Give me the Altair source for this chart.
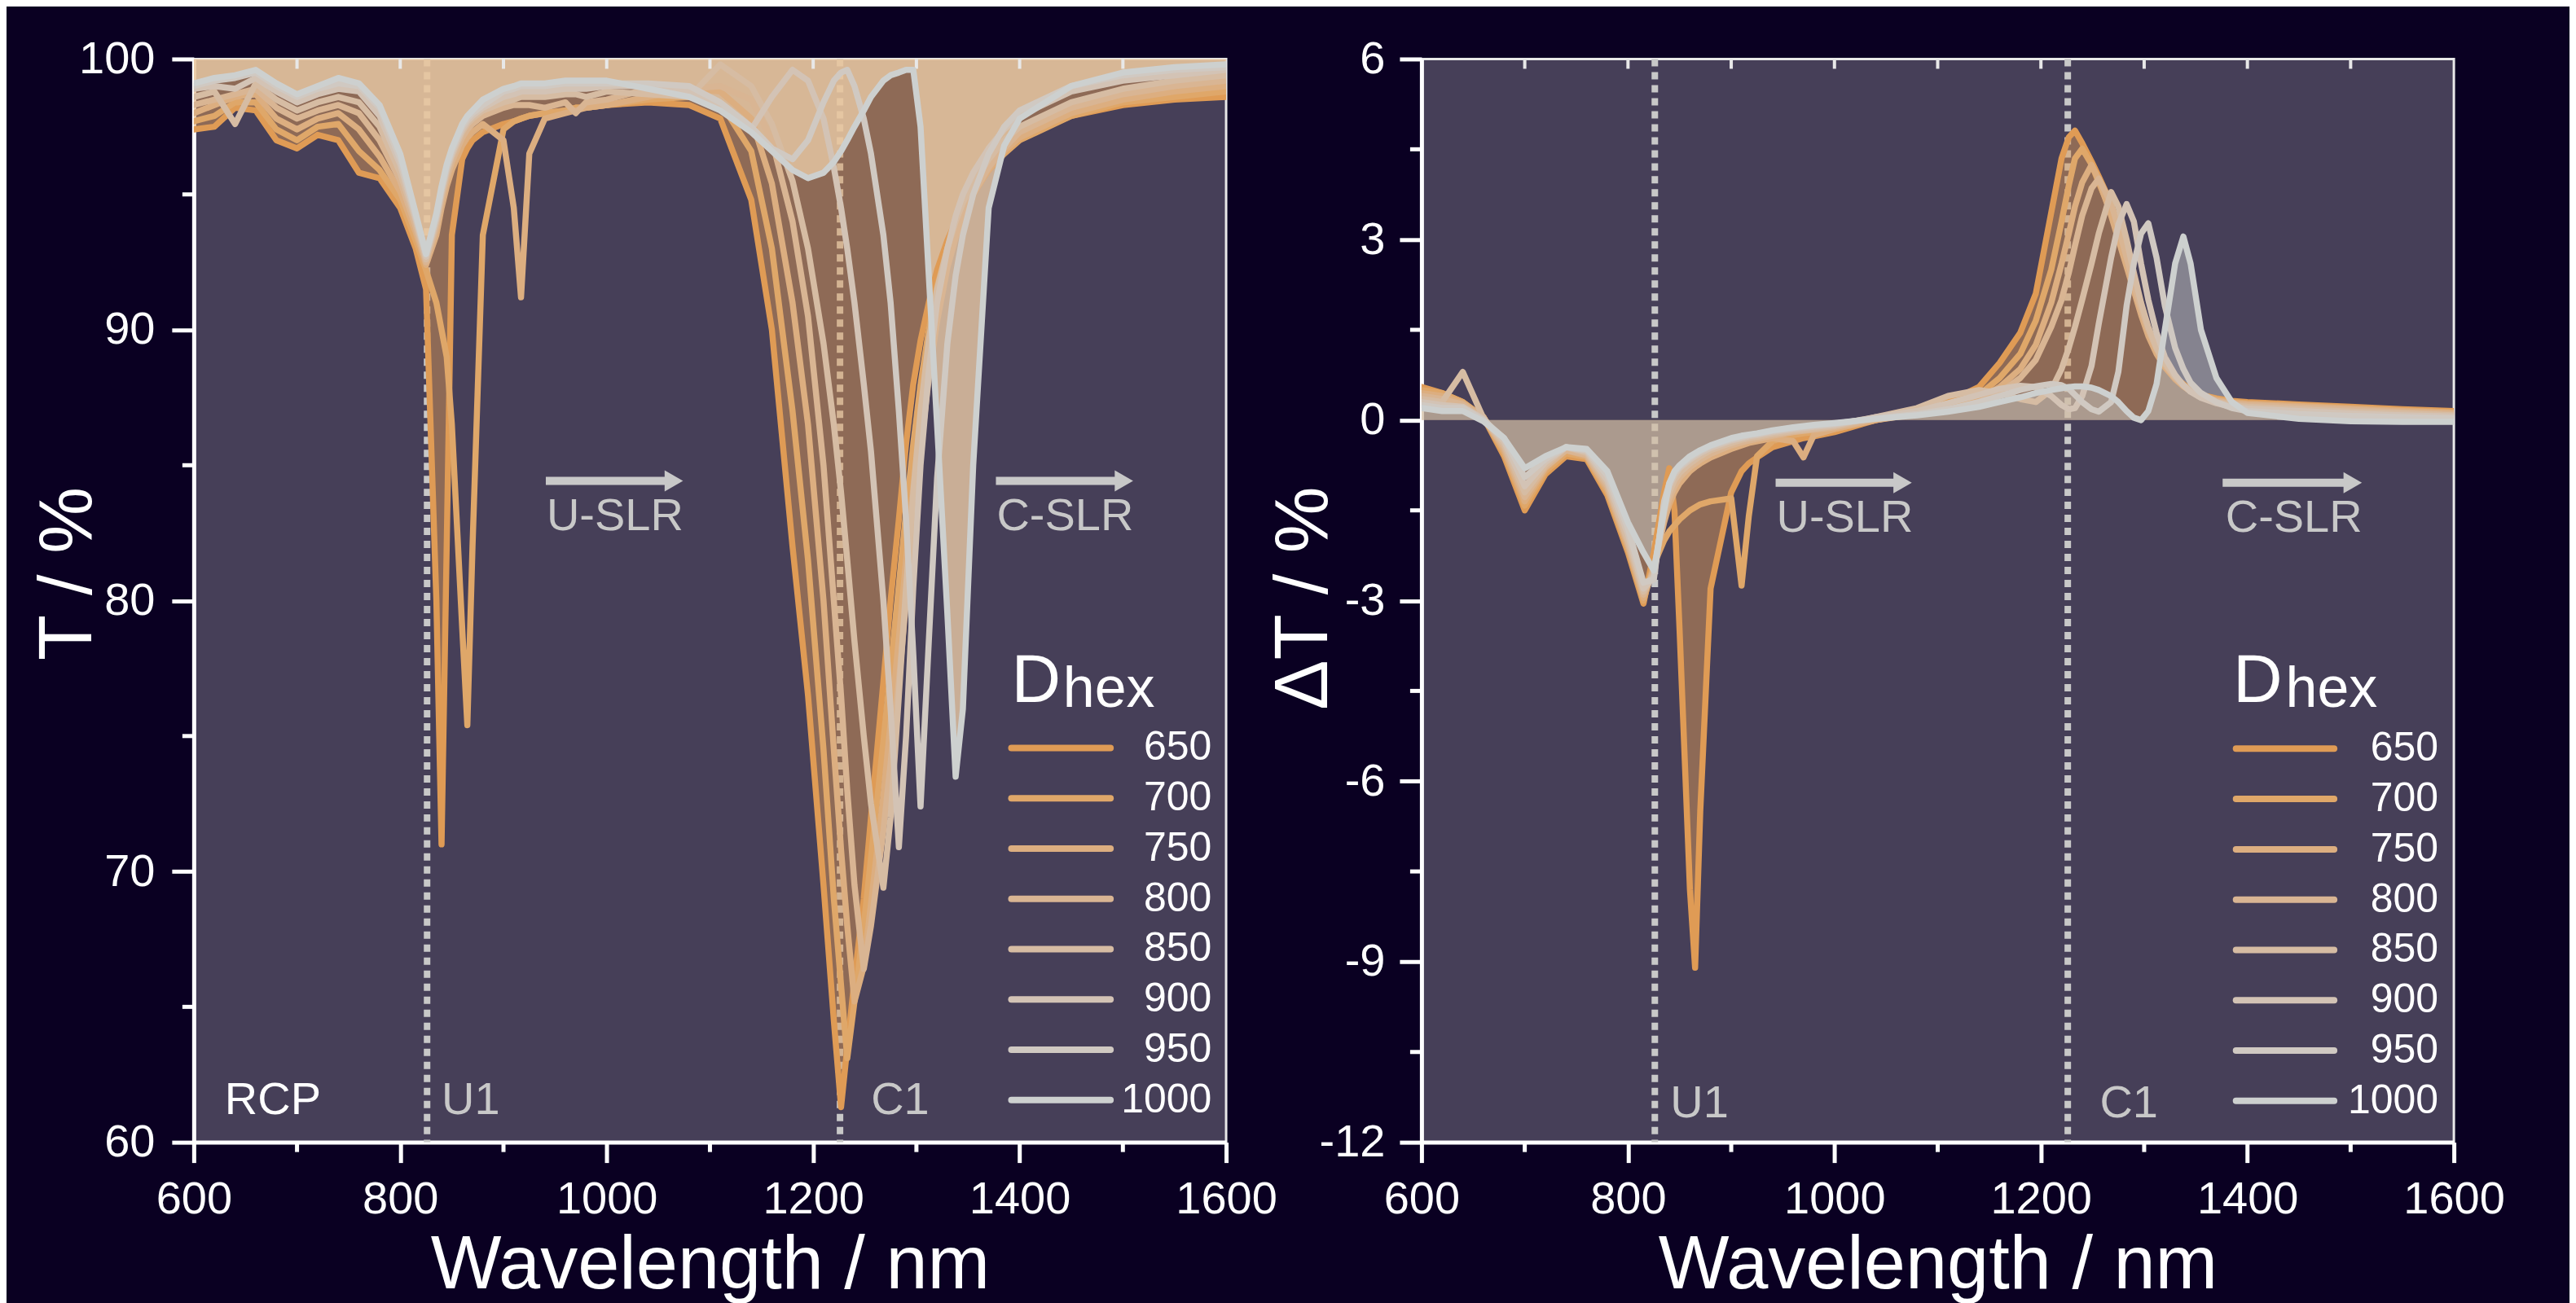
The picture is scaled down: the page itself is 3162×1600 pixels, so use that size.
import altair as alt
import pandas as pd

# ---------------- data ----------------
WL = [600, 620, 640, 660, 680, 700, 720, 740, 760, 780,
      800, 815, 825, 835, 840, 845, 850, 860, 865, 870,
      880, 900, 910, 917, 925, 940, 960, 970, 980, 1000,
      1040, 1080, 1110, 1140, 1160, 1180, 1195, 1210, 1220, 1227,
      1233, 1240, 1249, 1256, 1268, 1275, 1283, 1290, 1297, 1304,
      1312, 1320, 1330, 1338, 1345, 1355, 1370, 1385, 1400, 1450,
      1500, 1550, 1600]

SERIES = ["650", "700", "750", "800", "850", "900", "950", "1000"]
COLORS = ["#df9b55", "#dfa769", "#dcae80", "#d9b593",
          "#d6bca3", "#d3c3b5", "#d0c9c2", "#cdd0cf"]

# Transmission T / % (RCP)
T650 = [97.4, 97.5, 98.2, 98.1, 97.0, 96.7, 97.2, 97.0, 95.8, 95.6,
        94.5, 93.0, 91.5, 80.0, 71.0, 82.0, 93.5, 96.3, 96.7, 97.0,
        97.3, 97.6, 97.7, 97.8, 97.9, 98.0, 98.1, 98.2, 98.2, 98.3,
        98.4, 98.3, 97.8, 94.8, 90.0, 82.0, 76.5, 69.5, 64.5, 61.3,
        63.5, 66.0, 69.0, 72.0, 77.0, 80.0, 83.0, 85.8, 88.0, 89.6,
        91.0, 92.2, 93.3, 94.0, 94.6, 95.3, 96.1, 96.7, 97.1, 97.9,
        98.3, 98.5, 98.6]
T700 = [97.7, 97.9, 98.4, 98.4, 97.4, 97.0, 97.5, 97.6, 96.6, 95.9,
        94.8, 93.3, 92.2, 91.0, 90.0, 89.0, 86.5, 79.0, 75.4, 82.0,
        93.5, 97.4, 97.7, 97.8, 97.9, 98.0, 98.1, 98.2, 98.2, 98.3,
        98.5, 98.6, 98.4, 96.6, 93.0, 87.0, 81.5, 74.5, 69.0, 65.8,
        63.1, 65.2, 68.0, 70.5, 74.8, 77.5, 80.6, 83.3, 85.8, 88.0,
        90.0, 91.6, 93.0, 93.8, 94.4, 95.1, 95.9, 96.5, 97.0, 97.9,
        98.4, 98.6, 98.8]
T750 = [98.0, 98.3, 98.6, 98.7, 97.8, 97.4, 97.8, 98.0, 97.4, 96.4,
        95.1, 93.6, 92.4, 93.5, 94.5, 95.3, 95.9, 96.8, 97.1, 97.3,
        97.6, 97.0, 94.5, 91.2, 96.5, 97.8, 98.0, 98.1, 98.2, 98.3,
        98.6, 98.9, 98.8, 97.8, 95.4, 91.0, 86.5, 80.0, 74.5, 70.8,
        68.0, 65.2, 66.5, 68.8, 72.8, 75.5, 78.6, 81.5, 84.2, 86.6,
        88.9, 90.8, 92.6, 93.6, 94.3, 95.0, 95.9, 96.6, 97.1, 98.0,
        98.5, 98.8, 99.0]
T800 = [98.3, 98.5, 98.7, 98.9, 98.2, 97.8, 98.1, 98.3, 98.0, 97.0,
        95.5, 93.8, 92.5, 93.8, 94.8, 95.6, 96.2, 97.1, 97.4, 97.6,
        97.9, 98.2, 98.3, 98.3, 98.3, 98.2, 98.4, 98.0, 98.4, 98.5,
        98.9, 98.9, 99.0, 98.5, 97.0, 94.0, 90.5, 85.0, 80.0, 76.5,
        73.0, 69.5, 66.4, 68.0, 71.5, 74.0, 77.0, 80.0, 83.0, 85.6,
        88.2, 90.3, 92.3, 93.4, 94.2, 95.0, 96.0, 96.7, 97.3, 98.2,
        98.7, 99.0, 99.2]
T850 = [98.6, 98.8, 97.6, 99.1, 98.5, 98.1, 98.4, 98.6, 98.4, 97.5,
        95.8, 94.0, 92.6, 94.0, 95.0, 95.8, 96.4, 97.3, 97.6, 97.8,
        98.1, 98.4, 98.5, 98.6, 98.6, 98.6, 98.7, 98.7, 98.6, 98.8,
        98.7, 98.6, 99.8, 99.0, 97.6, 95.5, 93.0, 89.5, 86.5, 84.0,
        81.5, 78.5, 75.0, 72.5, 69.4, 72.0, 76.5, 80.5, 84.0, 87.0,
        89.6, 91.5, 93.0, 94.0, 94.7, 95.4, 96.3, 97.0, 97.5, 98.4,
        98.9, 99.2, 99.4]
T900 = [98.9, 99.0, 98.9, 99.3, 98.8, 98.4, 98.7, 98.9, 98.8, 97.9,
        96.1, 94.1, 92.7, 94.1, 95.1, 95.9, 96.5, 97.4, 97.7, 97.9,
        98.2, 98.6, 98.7, 98.8, 98.8, 98.8, 98.9, 98.9, 98.9, 99.0,
        99.0, 98.8, 98.2, 97.4, 98.6, 99.6, 99.2, 97.8, 96.0, 94.5,
        93.0, 91.0, 88.0, 85.5, 80.0, 76.0, 70.9, 75.0, 80.5, 85.0,
        88.5, 91.0, 93.0, 94.2, 95.0, 95.8, 96.7, 97.4, 97.9, 98.8,
        99.2, 99.4, 99.6]
T950 = [99.0, 99.2, 99.3, 99.5, 99.0, 98.6, 98.9, 99.1, 99.0, 98.2,
        96.3, 94.2, 92.8, 94.2, 95.2, 96.0, 96.6, 97.5, 97.8, 98.0,
        98.3, 98.8, 98.9, 99.0, 99.0, 99.0, 99.1, 99.1, 99.1, 99.1,
        99.1, 99.0, 98.4, 97.5, 96.7, 96.3, 97.0, 98.4, 99.2, 99.5,
        99.6, 99.0, 97.8, 96.5, 93.5, 91.0, 87.0, 83.0, 78.0, 72.4,
        78.5, 84.5, 89.5, 92.0, 93.5, 95.0, 96.5, 97.5, 98.1, 99.0,
        99.4, 99.6, 99.7]
T1000 = [99.1, 99.3, 99.4, 99.6, 99.1, 98.7, 99.0, 99.3, 99.1, 98.3,
         96.5, 94.3, 92.8, 94.3, 95.3, 96.1, 96.7, 97.6, 97.9, 98.1,
         98.5, 98.9, 99.0, 99.1, 99.1, 99.1, 99.2, 99.2, 99.2, 99.2,
         98.9, 98.6, 98.1, 97.3, 96.6, 95.9, 95.6, 95.8, 96.2, 96.6,
         97.0, 97.5, 98.1, 98.6, 99.2, 99.4, 99.5, 99.6, 99.6, 97.5,
         92.0, 86.5, 79.5, 73.5, 76.0, 85.0, 94.5, 96.8, 97.8, 99.0,
         99.5, 99.7, 99.8]

# Difference Delta T / %
D650 = [0.55, 0.45, 0.3, 0.05, -0.6, -1.5, -0.9, -0.6, -0.65, -1.25,
        -2.2, -3.05, -2.2, -1.2, -0.8, -1.5, -3.5, -7.8, -9.1, -6.5,
        -2.8, -1.2, -0.85, -0.72, -0.62, -0.45, -0.35, -0.3, -0.27, -0.2,
        0.0, 0.15, 0.3, 0.55, 0.95, 1.45, 2.1, 3.45, 4.35, 4.7,
        4.81, 4.6, 4.3, 4.05, 3.6, 3.2, 2.7, 2.25, 1.85, 1.5,
        1.2, 0.95, 0.7, 0.6, 0.5, 0.42, 0.36, 0.32, 0.3, 0.26,
        0.22, 0.18, 0.15]
D700 = [0.5, 0.45, 0.3, 0.05, -0.55, -1.42, -0.85, -0.55, -0.62, -1.2,
        -2.15, -3.0, -2.4, -2.0, -1.85, -1.75, -1.65, -1.5, -1.45, -1.4,
        -1.35, -1.3, -2.75, -1.6, -0.6, -0.35, -0.25, -0.22, -0.2, -0.15,
        0.0, 0.12, 0.25, 0.42, 0.7, 1.1, 1.65, 2.5, 3.3, 3.9,
        4.35, 4.51, 4.25, 3.95, 3.45, 3.1, 2.65, 2.2, 1.8, 1.45,
        1.15, 0.9, 0.7, 0.58, 0.5, 0.42, 0.35, 0.3, 0.28, 0.24,
        0.2, 0.16, 0.13]
D750 = [0.45, 0.4, 0.28, 0.05, -0.5, -1.35, -0.8, -0.5, -0.6, -1.15,
        -2.1, -2.95, -2.45, -1.7, -1.4, -1.2, -1.05, -0.85, -0.78, -0.72,
        -0.62, -0.48, -0.42, -0.38, -0.35, -0.3, -0.35, -0.62, -0.25, -0.15,
        0.0, 0.1, 0.2, 0.35, 0.55, 0.85, 1.25, 1.95, 2.6, 3.1,
        3.55, 3.95, 4.24, 4.0, 3.4, 3.0, 2.55, 2.15, 1.75, 1.4,
        1.1, 0.88, 0.68, 0.56, 0.48, 0.4, 0.33, 0.29, 0.27, 0.23,
        0.19, 0.15, 0.12]
D800 = [0.4, 0.35, 0.26, 0.04, -0.45, -1.28, -0.78, -0.5, -0.58, -1.1,
        -2.05, -2.9, -2.5, -1.6, -1.3, -1.1, -0.95, -0.78, -0.72, -0.66,
        -0.56, -0.42, -0.37, -0.34, -0.31, -0.26, -0.2, -0.18, -0.16, -0.12,
        0.02, 0.1, 0.18, 0.3, 0.45, 0.7, 1.0, 1.55, 2.0, 2.45,
        2.9, 3.4, 3.85, 4.01, 3.6, 3.2, 2.7, 2.25, 1.85, 1.5,
        1.18, 0.92, 0.7, 0.57, 0.48, 0.4, 0.32, 0.27, 0.25, 0.21,
        0.17, 0.13, 0.1]
D850 = [0.35, 0.3, 0.8, 0.03, -0.4, -1.2, -0.75, -0.45, -0.55, -1.05,
        -2.0, -2.85, -2.55, -1.5, -1.2, -1.0, -0.88, -0.72, -0.66, -0.6,
        -0.5, -0.38, -0.33, -0.3, -0.28, -0.23, -0.18, -0.16, -0.14, -0.1,
        0.05, 0.2, 0.4, 0.5, 0.45, 0.35, 0.3, 0.5, 0.85, 1.2,
        1.55, 2.0, 2.6, 3.1, 3.79, 3.55, 3.0, 2.45, 1.95, 1.55,
        1.2, 0.95, 0.72, 0.58, 0.48, 0.38, 0.3, 0.25, 0.22, 0.18,
        0.14, 0.11, 0.08]
D900 = [0.3, 0.25, 0.22, 0.02, -0.35, -1.1, -0.7, -0.45, -0.52, -1.0,
        -1.9, -2.8, -2.6, -1.4, -1.1, -0.92, -0.8, -0.66, -0.6, -0.55,
        -0.46, -0.34, -0.3, -0.27, -0.25, -0.2, -0.15, -0.13, -0.11, -0.08,
        0.05, 0.15, 0.28, 0.42, 0.52, 0.57, 0.55, 0.4, 0.25, 0.18,
        0.2, 0.4, 0.9, 1.6, 2.7, 3.25, 3.59, 3.3, 2.6, 2.0,
        1.45, 1.05, 0.75, 0.58, 0.47, 0.37, 0.28, 0.22, 0.19, 0.15,
        0.11, 0.08, 0.06]
D950 = [0.25, 0.2, 0.2, 0.0, -0.3, -0.95, -0.65, -0.45, -0.5, -0.92,
        -1.8, -2.7, -2.65, -1.35, -1.05, -0.88, -0.77, -0.63, -0.57, -0.52,
        -0.43, -0.32, -0.28, -0.25, -0.23, -0.18, -0.13, -0.11, -0.09, -0.06,
        0.03, 0.1, 0.18, 0.3, 0.4, 0.5, 0.56, 0.6, 0.58, 0.52,
        0.42, 0.3, 0.18, 0.14, 0.3, 0.8, 1.9, 2.6, 3.1, 3.27,
        2.7, 1.9, 1.2, 0.85, 0.62, 0.45, 0.3, 0.2, 0.15, 0.1,
        0.07, 0.05, 0.03]
D1000 = [0.2, 0.15, 0.15, -0.02, -0.3, -0.8, -0.6, -0.45, -0.48, -0.85,
         -1.7, -2.2, -2.5, -1.5, -1.05, -0.85, -0.75, -0.6, -0.55, -0.5,
         -0.42, -0.3, -0.26, -0.24, -0.22, -0.17, -0.12, -0.1, -0.08, -0.05,
         0.02, 0.08, 0.14, 0.22, 0.3, 0.38, 0.45, 0.5, 0.53, 0.55,
         0.56, 0.56, 0.54, 0.5, 0.4, 0.3, 0.15, 0.04, 0.0, 0.15,
         0.6, 1.5, 2.6, 3.05, 2.6, 1.5, 0.7, 0.3, 0.12, 0.02,
         -0.02, -0.03, -0.03]

T_ALL = [T650, T700, T750, T800, T850, T900, T950, T1000]
D_ALL = [D650, D700, D750, D800, D850, D900, D950, D1000]

MARKERS = [826, 1226]               # U1, C1 dotted lines
X_MAJOR = [600, 800, 1000, 1200, 1400, 1600]
X_MINOR = [700, 900, 1100, 1300, 1500]
X_TOP = [700, 800, 900, 1000, 1100, 1200, 1300, 1400, 1500]

# ---------------- style ----------------
PW, PH = 1268, 1331
FONT = "Liberation Sans"
BG = "#0a0022"
PLOT_BG = "#463f58"
GREY = "#c8c8c8"
COLOR_SCALE = alt.Scale(domain=SERIES, range=COLORS)


def long_df(series_vals):
    rows = []
    for k, (name, vals) in enumerate(zip(SERIES, series_vals)):
        for w, v in zip(WL, vals):
            rows.append({"wl": w, "v": v, "D": name, "k": k})
    return pd.DataFrame(rows)


def make_panel(series_vals, ydom, ymajor, yminor, ref, ytitle, ytitle_x, ytitle_y,
               label_pad, fills, texts_left, texts_center, arrows, legend_rows,
               legend_x, title_d, title_hex):
    xs = alt.Scale(domain=[600, 1600], nice=False, zero=False)
    ys = alt.Scale(domain=ydom, nice=False, zero=False)

    xaxis = alt.Axis(values=X_MAJOR, format="d", title="Wavelength / nm", grid=False,
                     domainColor="white", domainWidth=5, tickColor="white", tickWidth=5,
                     tickSize=25, labelColor="white", labelFont=FONT, labelFontSize=56,
                     labelPadding=18, labelFlush=False, labelOverlap=False,
                     titleColor="white", titleFont=FONT, titleFontSize=92,
                     titleFontWeight="normal", titleY=179, titleBaseline="alphabetic")
    yaxis = alt.Axis(values=ymajor, labelExpr="'' + datum.value", title=ytitle, grid=False,
                     domainColor="white", domainWidth=5, tickColor="white", tickWidth=5,
                     tickSize=27, labelColor="white", labelFont=FONT, labelFontSize=56,
                     labelPadding=label_pad, labelFlush=False, labelOverlap=False,
                     titleColor="white", titleFont=FONT, titleFontSize=92,
                     titleFontWeight="normal", titleAngle=270, titleX=ytitle_x,
                     titleY=ytitle_y, titleBaseline="alphabetic", titleAlign="center")

    def X(f="wl"):
        return alt.X(f"{f}:Q", scale=xs, axis=xaxis, title="Wavelength / nm")

    def Y(f="v"):
        return alt.Y(f"{f}:Q", scale=ys, axis=yaxis, title=ytitle)

    df = long_df(series_vals)
    base = alt.Chart(df)
    layers = []

    # dotted marker lines
    layers.append(alt.Chart(pd.DataFrame({"wl": MARKERS})).mark_rule(
        color=GREY, strokeWidth=8, strokeDash=[9, 7]).encode(x=X()))

    # fills of the first and last series to the reference value
    for name, color, op in fills:
        layers.append(base.transform_filter(alt.datum.D == name).mark_area(
            color=color, opacity=op, clip=True).encode(
            x=X(), y=Y(), y2=alt.datum(ref)))

    # minor ticks and top ticks
    layers.append(alt.Chart(pd.DataFrame({"v": yminor})).mark_rule(
        color="white", strokeWidth=5).encode(y=Y(), x=alt.value(-14), x2=alt.value(0)))
    layers.append(alt.Chart(pd.DataFrame({"wl": X_MINOR})).mark_rule(
        color="white", strokeWidth=5).encode(x=X(), y=alt.value(PH), y2=alt.value(PH + 12)))
    layers.append(alt.Chart(pd.DataFrame({"wl": X_TOP})).mark_rule(
        color="#e8e8e8", strokeWidth=4).encode(x=X(), y=alt.value(0), y2=alt.value(12)))

    # spectra
    layers.append(base.mark_line(strokeWidth=7.5, strokeCap="round", strokeJoin="round",
                                 clip=True).encode(
        x=X(), y=Y(),
        color=alt.Color("D:N", scale=COLOR_SCALE, legend=None),
        order="wl:Q"))

    # annotations
    tl = pd.DataFrame(texts_left, columns=["wl", "v", "t", "c"])
    layers.append(alt.Chart(tl).mark_text(font=FONT, fontSize=56, align="left",
                                          baseline="alphabetic").encode(
        x=X(), y=Y(), text="t:N", color=alt.Color("c:N", scale=None)))
    tc = pd.DataFrame(texts_center, columns=["wl", "v", "t"])
    layers.append(alt.Chart(tc).mark_text(font=FONT, fontSize=56, align="center",
                                          baseline="alphabetic", color=GREY).encode(
        x=X(), y=Y(), text="t:N"))
    ar = pd.DataFrame(arrows, columns=["wl", "wl2", "head", "v"])
    layers.append(alt.Chart(ar).mark_rule(color=GREY, strokeWidth=10).encode(
        x=X(), x2="wl2:Q", y=Y()))
    layers.append(alt.Chart(ar).mark_point(shape="triangle-right", filled=True, size=680,
                                           color=GREY, opacity=1, strokeWidth=0).encode(
        x=X("head"), y=Y()))

    # legend
    lg = pd.DataFrame(legend_rows, columns=["D", "v"])
    lg["x1"], lg["x2"], lg["xl"] = legend_x
    layers.append(alt.Chart(lg).mark_rule(strokeWidth=8, strokeCap="round").encode(
        x=X("x1"), x2="x2:Q", y=Y(),
        color=alt.Color("D:N", scale=COLOR_SCALE, legend=None)))
    layers.append(alt.Chart(lg).mark_text(font=FONT, fontSize=50, align="right",
                                          baseline="middle", color="white").encode(
        x=X("xl"), y=Y(), text="D:N"))
    td = pd.DataFrame([title_d], columns=["wl", "v", "t"])
    layers.append(alt.Chart(td).mark_text(font=FONT, fontSize=84, align="left",
                                          baseline="alphabetic", color="white").encode(
        x=X(), y=Y(), text="t:N"))
    th = pd.DataFrame([title_hex], columns=["wl", "v", "t"])
    layers.append(alt.Chart(th).mark_text(font=FONT, fontSize=70, align="left",
                                          baseline="alphabetic", color="white").encode(
        x=X(), y=Y(), text="t:N"))

    return alt.layer(*layers).properties(width=PW, height=PH)


left = make_panel(
    T_ALL, [60, 100], [60, 70, 80, 90, 100], [65, 75, 85, 95], 100,
    "T / %", -126, 632, 21,
    [("650", "#df9b55", 0.47), ("1000", "#eacaa6", 0.8)],
    [(630, 61.03, "RCP", "white"), (840, 61.03, "U1", GREY), (1256, 61.03, "C1", GREY)],
    [(1008, 82.6, "U-SLR"), (1444, 82.6, "C-SLR")],
    [(941, 1062, 1065, 84.42), (1377, 1498, 1501, 84.42)],
    [(s, 74.56 - i * 1.857) for i, s in enumerate(SERIES)],
    (1392, 1488, 1586),
    (1392, 76.26, "D"), (1442, 76.08, "hex"))

right = make_panel(
    D_ALL, [-12, 6], [-12, -9, -6, -3, 0, 3, 6], [-10.5, -7.5, -4.5, -1.5, 1.5, 4.5], 0,
    "ΔT / %", -116, 662, 18,
    [("650", "#df9b55", 0.47), ("1000", "#cdd0cf", 0.47)],
    [(841, -11.58, "U1", GREY), (1257, -11.58, "C1", GREY)],
    [(1010, -1.86, "U-SLR"), (1445, -1.86, "C-SLR")],
    [(943, 1063, 1066, -1.04), (1376, 1499, 1502, -1.04)],
    [(s, -5.46 - i * 0.836) for i, s in enumerate(SERIES)],
    (1389, 1484, 1585),
    (1386, -4.69, "D"), (1437, -4.77, "hex"))

chart = alt.hconcat(left, right, spacing=240, bounds="flush").properties(
    padding={"left": 28, "top": 34, "right": 78, "bottom": 0},
    background=BG,
).configure_view(fill=PLOT_BG, stroke="#e8e8e8", strokeWidth=3)

chart.save("out.html", embed_options={"renderer": "svg", "actions": False})
